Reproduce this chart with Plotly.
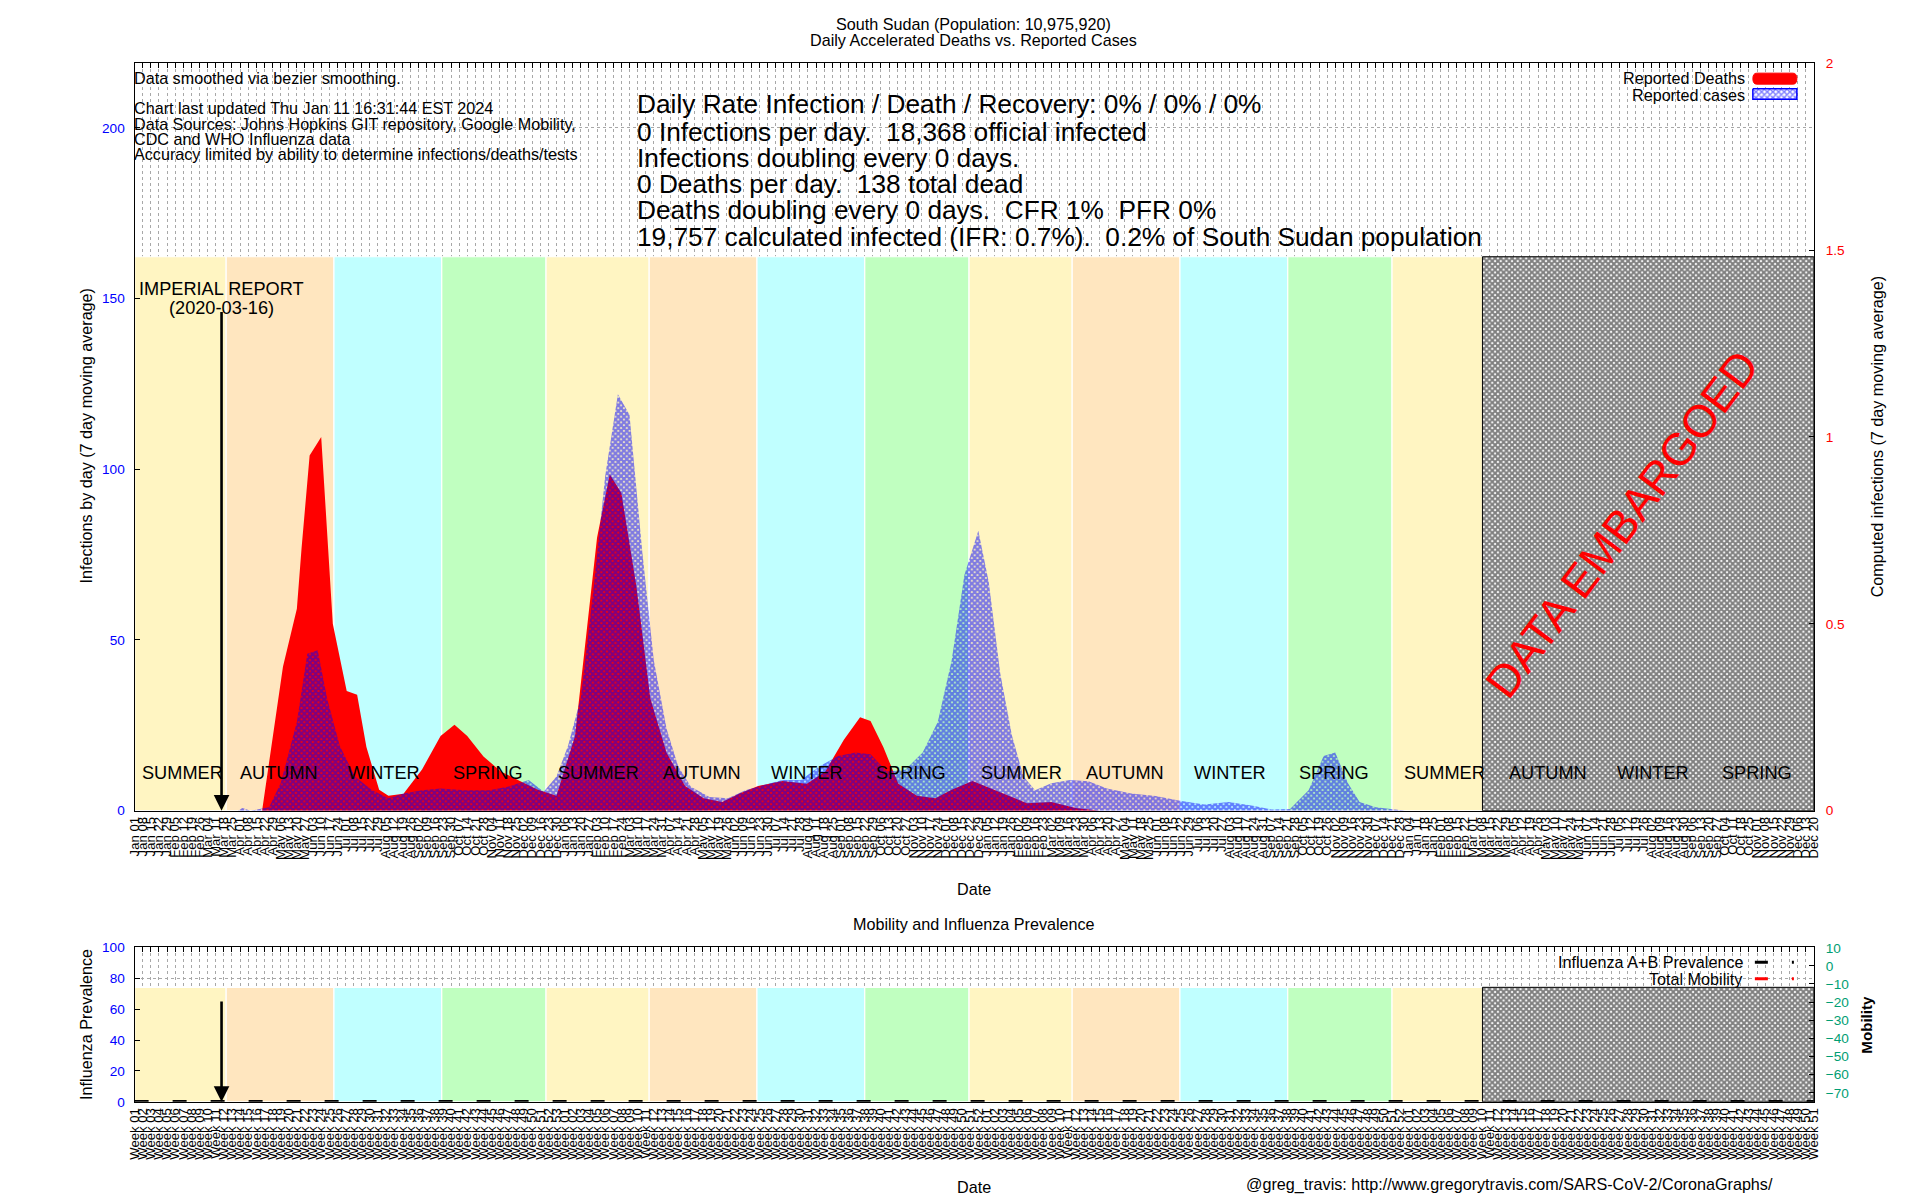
import pandas as pd
import plotly.graph_objects as go

FONT = "Liberation Sans, Arial, Helvetica, sans-serif"

# ---------------- data ----------------
x_start = "2020-01-01"
x_end = "2023-12-20"
embargo_start = "2023-03-09"
imperial_date = "2020-03-16"

# Reported deaths (right axis, 7 day moving average)
death_dates = ["2020-04-20", "2020-05-08", "2020-05-20", "2020-05-24", "2020-05-31", "2020-06-10",
               "2020-06-16", "2020-06-20", "2020-07-02", "2020-07-11", "2020-07-19", "2020-07-30",
               "2020-08-07", "2020-08-20", "2020-09-05", "2020-09-21", "2020-10-03", "2020-10-14",
               "2020-10-28", "2020-11-12", "2020-11-28", "2020-12-14", "2020-12-30", "2021-01-15",
               "2021-02-03", "2021-02-14", "2021-02-24", "2021-03-09", "2021-03-21", "2021-04-04",
               "2021-04-20", "2021-05-06", "2021-05-22", "2021-06-06", "2021-06-22", "2021-07-13",
               "2021-08-03", "2021-08-19", "2021-09-04", "2021-09-18", "2021-09-27", "2021-10-08",
               "2021-10-21", "2021-11-06", "2021-11-22", "2021-12-06", "2021-12-24", "2022-01-09",
               "2022-01-25", "2022-02-09", "2022-03-02", "2022-03-23", "2022-04-13"]
death_values = [0, 0.385, 0.54, 0.7, 0.95, 1.0, 0.7, 0.5, 0.32, 0.31,
                0.17, 0.056, 0.04, 0.045, 0.11, 0.2, 0.23, 0.2, 0.145, 0.105,
                0.08, 0.056, 0.04, 0.2, 0.73, 0.90, 0.85, 0.6, 0.3, 0.155,
                0.066, 0.033, 0.023, 0.046, 0.066, 0.079, 0.072, 0.105, 0.19, 0.25,
                0.24, 0.17, 0.072, 0.04, 0.033, 0.056, 0.079, 0.059, 0.04, 0.02,
                0.023, 0.007, 0]

# Reported cases (left axis, 7 day moving average)
case_dates = ["2020-03-30", "2020-04-03", "2020-04-10", "2020-04-20", "2020-04-26", "2020-05-06",
              "2020-05-20", "2020-05-29", "2020-06-07", "2020-06-15", "2020-06-26", "2020-07-09",
              "2020-07-24", "2020-08-07", "2020-08-20", "2020-09-05", "2020-09-21", "2020-10-12",
              "2020-11-02", "2020-11-18", "2020-12-06", "2020-12-19", "2020-12-30", "2021-01-09",
              "2021-01-20", "2021-01-31", "2021-02-10", "2021-02-21", "2021-03-03", "2021-03-14",
              "2021-03-24", "2021-04-04", "2021-04-14", "2021-04-25", "2021-05-11", "2021-05-27",
              "2021-06-11", "2021-06-27", "2021-07-13", "2021-07-29", "2021-08-14", "2021-08-30",
              "2021-09-14", "2021-09-27", "2021-10-11", "2021-10-27", "2021-11-11", "2021-11-24",
              "2021-12-06", "2021-12-17", "2021-12-29", "2022-01-07", "2022-01-17", "2022-01-27",
              "2022-02-06", "2022-02-16", "2022-03-02", "2022-03-18", "2022-04-03", "2022-04-19",
              "2022-05-10", "2022-05-31", "2022-06-21", "2022-07-12", "2022-08-02", "2022-08-23",
              "2022-09-08", "2022-09-24", "2022-10-10", "2022-10-23", "2022-11-02", "2022-11-13",
              "2022-11-23", "2022-12-07", "2022-12-23", "2023-01-02"]
case_values = [0, 0.8, 0, 0.5, 1, 8,
               26, 46, 47, 33, 19, 10,
               6, 3.6, 5, 6, 6.5, 6,
               6, 7, 9, 5.5, 10, 19,
               33, 65, 98, 122, 116, 76,
               44, 24, 13, 7, 4, 3.6,
               6, 7.5, 9, 9, 13, 16,
               17, 16.5, 11.5, 12, 17, 26,
               44, 69, 82, 67, 40, 22,
               10, 6, 8, 9, 8.6, 6.5,
               5, 4.3, 2.9, 1.8, 2.5, 1.4,
               0.3, 0.5, 6, 16, 17, 8,
               2.5, 1, 0.3, 0]

# Season bands
band_starts = ["2020-01-01", "2020-03-20", "2020-06-21", "2020-09-22", "2020-12-21", "2021-03-20",
               "2021-06-21", "2021-09-22", "2021-12-21", "2022-03-20", "2022-06-21", "2022-09-22",
               "2022-12-21"]
band_ends = ["2020-03-20", "2020-06-21", "2020-09-22", "2020-12-21", "2021-03-20", "2021-06-21",
             "2021-09-22", "2021-12-21", "2022-03-20", "2022-06-21", "2022-09-22", "2022-12-21",
             embargo_start]
band_seasons = ["SUMMER", "AUTUMN", "WINTER", "SPRING"] * 3 + ["SUMMER"]

season_label_dates = ["2020-02-11", "2020-05-05", "2020-08-03", "2020-11-01",
                      "2021-02-04", "2021-05-05", "2021-08-03", "2021-11-01",
                      "2022-02-04", "2022-05-05", "2022-08-03", "2022-11-01",
                      "2023-02-04", "2023-05-05", "2023-08-03", "2023-11-01"]
season_label_names = ["SUMMER", "AUTUMN", "WINTER", "SPRING"] * 4

influenza_dates = [x_start, x_end]
influenza_values = [0, 0]
mobility_dates = []
mobility_values = []

main_left_ticks = [0, 50, 100, 150, 200]
main_right_ticks = [0, 0.5, 1, 1.5, 2]
flu_ticks = [0, 20, 40, 60, 80, 100]
mobility_ticks = [10, 0, -10, -20, -30, -40, -50, -60, -70]

tick_dates = pd.date_range(x_start, x_end, freq="7D")
tick_vals = [d.strftime("%Y-%m-%d") for d in tick_dates]
date_tick_text = [d.strftime("%b %d") for d in tick_dates]
week_tick_text = ["Week %02d" % d.isocalendar()[1] for d in tick_dates]

title_lines = ["South Sudan (Population: 10,975,920)", "Daily Accelerated Deaths vs. Reported Cases"]
info_small = ["Data smoothed via bezier smoothing.",
              "Chart last updated Thu Jan 11 16:31:44 EST 2024",
              "Data Sources: Johns Hopkins GIT repository, Google Mobility,",
              "CDC and WHO Influenza data",
              "Accuracy limited by ability to determine infections/deaths/tests"]
info_big = ["Daily Rate Infection / Death / Recovery: 0% / 0% / 0%",
            "0 Infections per day.  18,368 official infected",
            "Infections doubling every 0 days.",
            "0 Deaths per day.  138 total dead",
            "Deaths doubling every 0 days.  CFR 1%  PFR 0%",
            "19,757 calculated infected (IFR: 0.7%).  0.2% of South Sudan population"]

# ---------------- styling / geometry ----------------
W, H = 1920, 1200
# the rendered page is captured with an 8px surround, so target positions are pre-compensated
CAP_W, CAP_H, PAD = 1936.0, 1216.0, 8.0
FS = 1.01  # font scale compensation

X0, X1 = 134.5, 1813        # target pixel positions (reference frame)
MAIN_TOP, MAIN_BOT = 64, 811
SUB_TOP, SUB_BOT = 947, 1102
MAIN_BAND_TOP = 1.482     # right-axis units
SUB_BAND_TOP = 74.2       # influenza-axis units
season_colors = {"SUMMER": "#FFF5C2", "AUTUMN": "#FFE6BF", "WINTER": "#C0FFFF", "SPRING": "#C0FFC0"}
GRID = "#a8a8a8"
BLUE = "#0000FF"
RED = "#FF0000"
TEAL = "#009E73"


def px(x):
    return (x * CAP_W / W - PAD) / W


def py(y):
    return 1 - (y * CAP_H / H - PAD) / H


def fs(s):
    return s * FS


fig = go.Figure()

# hatched embargo region (main)
fig.add_trace(go.Scatter(
    x=[embargo_start, x_end, x_end, embargo_start, embargo_start],
    y=[0, 0, MAIN_BAND_TOP, MAIN_BAND_TOP, 0],
    xaxis="x", yaxis="y", mode="lines", fill="toself",
    fillcolor="black", line=dict(color="black", width=1),
    fillpattern=dict(shape="x", fgcolor="black", bgcolor="white", size=4, solidity=0.75),
    showlegend=False, hoverinfo="skip"))

# deaths (red)
fig.add_trace(go.Scatter(
    x=death_dates, y=death_values, xaxis="x", yaxis="y", mode="lines",
    fill="tozeroy", fillcolor=RED, line=dict(color=RED, width=0),
    name="Reported Deaths", showlegend=False))

# cases (blue hatch)
fig.add_trace(go.Scatter(
    x=case_dates, y=case_values, xaxis="x", yaxis="y2", mode="lines",
    fill="tozeroy", fillcolor=BLUE, line=dict(color=BLUE, width=0),
    fillpattern=dict(shape="x", fgcolor=BLUE, bgcolor="rgba(0,0,0,0)", size=4, solidity=0.8),
    name="Reported cases", showlegend=False))

# dummy to anchor top tick axis of main panel
fig.add_trace(go.Scatter(x=[x_start], y=[None], xaxis="x3", yaxis="y", mode="lines",
                         showlegend=False, hoverinfo="skip"))

# hatched embargo region (bottom)
fig.add_trace(go.Scatter(
    x=[embargo_start, x_end, x_end, embargo_start, embargo_start],
    y=[0, 0, SUB_BAND_TOP, SUB_BAND_TOP, 0],
    xaxis="x2", yaxis="y3", mode="lines", fill="toself",
    fillcolor="black", line=dict(color="black", width=1),
    fillpattern=dict(shape="x", fgcolor="black", bgcolor="white", size=4, solidity=0.75),
    showlegend=False, hoverinfo="skip"))

# influenza prevalence
fig.add_trace(go.Scatter(
    x=influenza_dates, y=influenza_values, xaxis="x2", yaxis="y3", mode="lines",
    line=dict(color="black", width=3.5, dash="14px,24px"), showlegend=False))

# mobility (no data)
fig.add_trace(go.Scatter(
    x=mobility_dates, y=mobility_values, xaxis="x2", yaxis="y4", mode="lines",
    line=dict(color=RED, width=2), showlegend=False))

fig.add_trace(go.Scatter(x=[x_start], y=[None], xaxis="x4", yaxis="y3", mode="lines",
                         showlegend=False, hoverinfo="skip"))

# legend swatch with pattern (overlay axes in reference pixel frame)
fig.add_trace(go.Scatter(
    x=[1752, 1796, 1796, 1752, 1752], y=[89.5, 89.5, 100, 100, 89.5],
    xaxis="x5", yaxis="y5", mode="lines", fill="toself", fillcolor=BLUE,
    line=dict(color=BLUE, width=1.5),
    fillpattern=dict(shape="x", fgcolor=BLUE, bgcolor="white", size=4, solidity=0.6),
    showlegend=False, hoverinfo="skip"))

shapes = []
for s, e, k in zip(band_starts, band_ends, band_seasons):
    shapes.append(dict(type="rect", xref="x", yref="y", x0=s, x1=e, y0=0, y1=MAIN_BAND_TOP,
                       fillcolor=season_colors[k], line=dict(color="white", width=1.2),
                       layer="between"))
    shapes.append(dict(type="rect", xref="x2", yref="y3", x0=s, x1=e, y0=0, y1=SUB_BAND_TOP,
                       fillcolor=season_colors[k], line=dict(color="white", width=1.2),
                       layer="between"))


def rounded_bar(xa, xb, ya, yb, r):
    ym = (ya + yb) / 2
    pts = [("M", xa + r, ya), ("L", xb - r, ya), ("Q", xb, ya, xb, ym), ("Q", xb, yb, xb - r, yb),
           ("L", xa + r, yb), ("Q", xa, yb, xa, ym), ("Q", xa, ya, xa + r, ya)]
    out = []
    for p in pts:
        if p[0] == "Q":
            out.append("Q%.6f,%.6f %.6f,%.6f" % (px(p[1]), py(p[2]), px(p[3]), py(p[4])))
        else:
            out.append("%s%.6f,%.6f" % (p[0], px(p[1]), py(p[2])))
    return " ".join(out) + " Z"


# legend swatches (main)
shapes.append(dict(type="path", xref="paper", yref="paper", path=rounded_bar(1752, 1796, 74, 85, 4),
                   fillcolor=RED, line=dict(color=RED, width=1)))
# legend keys (bottom)
for yy, col in [(962.5, "black"), (979, RED)]:
    shapes.append(dict(type="line", xref="paper", yref="paper", x0=px(1754), x1=px(1767),
                       y0=py(yy), y1=py(yy), line=dict(color=col, width=3)))
    shapes.append(dict(type="rect", xref="paper", yref="paper", x0=px(1791), x1=px(1793),
                       y0=py(yy + 1.5), y1=py(yy - 1.5), fillcolor=col, line=dict(color=col, width=0)))

annotations = []


def text(x, y, s, size, color="black", xanchor="center", angle=0, xref="paper", yref="paper", **kw):
    annotations.append(dict(x=x, y=y, xref=xref, yref=yref, text=s, showarrow=False,
                            xanchor=xanchor, yanchor="middle", textangle=angle,
                            font=dict(family=FONT, size=fs(size), color=color), **kw))


text(px(973), py(25), title_lines[0], 16)
text(px(973), py(41), title_lines[1], 16)
for s, yy in zip(info_small, [79.3, 109.3, 124.7, 140, 154.7]):
    text(px(132), py(yy), s, 16, xanchor="left")
for s, yy in zip(info_big, [105, 132.7, 158.3, 185, 210.7, 237.3]):
    text(px(635), py(yy), s, 26, xanchor="left")

text(px(1746), py(79.3), "Reported Deaths", 16, xanchor="right")
text(px(1746), py(95.7), "Reported cases", 16, xanchor="right")

for d, n in zip(season_label_dates, season_label_names):
    text(d, 0.1, n, 18, xref="x", yref="y")

text(px(221), py(289.3), "IMPERIAL REPORT", 18)
text(px(221), py(308.3), "(2020-03-16)", 18)
text(px(1621), py(524.6), "DATA EMBARGOED", 45, color=RED, angle=-53)

text(px(86), py(437), "Infections by day (7 day moving average)", 16, angle=-90)
text(px(1876), py(437), "Computed infections (7 day moving average)", 16, angle=-90)
text(px(973), py(889), "Date", 16)

text(px(973), py(924.3), "Mobility and Influenza Prevalence", 16)
text(px(86), py(1025), "Influenza Prevalence", 16, angle=-90)
text(px(1866), py(1025), "<b>Mobility</b>", 15, angle=-90)
text(px(1744), py(962.3), "Influenza A+B Prevalence", 16, xanchor="right")
text(px(1744), py(979), "Total Mobility", 16, xanchor="right")
text(px(973), py(1187), "Date", 16)
text(px(1509), py(1184.5), "@greg_travis: http://www.gregorytravis.com/SARS-CoV-2/CoronaGraphs/", 16)

# Imperial report arrows
annotations.append(dict(x=imperial_date, y=0, xref="x", yref="y2", ax=imperial_date, ay=146.5,
                        axref="x", ayref="y2", text="", showarrow=True, arrowhead=2,
                        arrowsize=1.2, arrowwidth=2.6, arrowcolor="black"))
annotations.append(dict(x=imperial_date, y=0, xref="x2", yref="y3", ax=imperial_date, ay=66,
                        axref="x2", ayref="y3", text="", showarrow=True, arrowhead=2,
                        arrowsize=1.2, arrowwidth=2.6, arrowcolor="black"))

xdom = [px(X0), px(X1)]
main_dom = [py(MAIN_BOT), py(MAIN_TOP)]
sub_dom = [py(SUB_BOT), py(SUB_TOP)]

xcommon = dict(type="date", range=[x_start, x_end], domain=xdom, showline=True, linecolor="black",
               linewidth=1.2, zeroline=False)

fig.update_layout(
    width=W, height=H, margin=dict(l=0, r=0, t=0, b=0),
    paper_bgcolor="white", plot_bgcolor="rgba(0,0,0,0)", showlegend=False,
    font=dict(family=FONT, color="black"),
    xaxis=dict(**xcommon, anchor="y", mirror=True, tickmode="array", tickvals=tick_vals,
               ticktext=date_tick_text, tickangle=-90, ticks="",
               tickfont=dict(family=FONT, size=fs(13), color="black"),
               showgrid=True, gridcolor=GRID, griddash="dot", gridwidth=1),
    xaxis3=dict(type="date", range=[x_start, x_end], overlaying="x", side="top", anchor="y",
                tickmode="array", tickvals=tick_vals, ticks="inside", ticklen=5, tickcolor="black",
                showticklabels=False, showgrid=False, showline=False, zeroline=False),
    yaxis=dict(domain=main_dom, anchor="x", side="right", range=[0, 2], tickmode="array",
               tickvals=main_right_ticks, ticks="inside", ticklen=5, tickcolor="black",
               tickfont=dict(family=FONT, size=fs(13.5), color=RED), showgrid=False, zeroline=False,
               showline=True, linecolor="black", linewidth=1.2, ticklabelstandoff=8),
    yaxis2=dict(overlaying="y", anchor="x", side="left", range=[0, 219], tickmode="array",
                tickvals=main_left_ticks, ticks="inside", ticklen=5, tickcolor="black",
                tickfont=dict(family=FONT, size=fs(13.5), color=BLUE), showgrid=True, gridcolor=GRID,
                griddash="dot", zeroline=False, showline=True, linecolor="black", linewidth=1.2,
                ticklabelstandoff=6),
    xaxis2=dict(**xcommon, anchor="y3", mirror=True, tickmode="array", tickvals=tick_vals,
                ticktext=week_tick_text, tickangle=-90, ticks="",
                tickfont=dict(family=FONT, size=fs(13), color="black"),
                showgrid=True, gridcolor=GRID, griddash="dot", gridwidth=1),
    xaxis4=dict(type="date", range=[x_start, x_end], overlaying="x2", side="top", anchor="y3",
                tickmode="array", tickvals=tick_vals, ticks="inside", ticklen=5, tickcolor="black",
                showticklabels=False, showgrid=False, showline=False, zeroline=False),
    yaxis3=dict(domain=sub_dom, anchor="x2", side="left", range=[0, 100.5], tickmode="array",
                tickvals=flu_ticks, ticks="inside", ticklen=5, tickcolor="black",
                tickfont=dict(family=FONT, size=fs(13.5), color=BLUE), showgrid=True, gridcolor=GRID,
                griddash="dot", zeroline=False, showline=True, linecolor="black", linewidth=1.2,
                ticklabelstandoff=6),
    yaxis4=dict(overlaying="y3", anchor="x2", side="right", range=[-75, 10.55], tickmode="array",
                tickvals=mobility_ticks, ticks="inside", ticklen=5, tickcolor="black",
                tickfont=dict(family=FONT, size=fs(13.5), color=TEAL), showgrid=False, zeroline=False,
                showline=True, linecolor="black", linewidth=1.2, ticklabelstandoff=8),
    xaxis5=dict(domain=[0, 1], anchor="y5", range=[PAD * W / CAP_W, (W + PAD) * W / CAP_W],
                visible=False, fixedrange=True),
    yaxis5=dict(domain=[0, 1], anchor="x5", range=[(H + PAD) * H / CAP_H, PAD * H / CAP_H],
                visible=False, fixedrange=True),
    shapes=shapes,
    annotations=annotations,
)

fig.write_html("out.html", config={"displayModeBar": False},
               post_script="document.body.style.margin='0px';document.body.style.overflow='hidden';")
